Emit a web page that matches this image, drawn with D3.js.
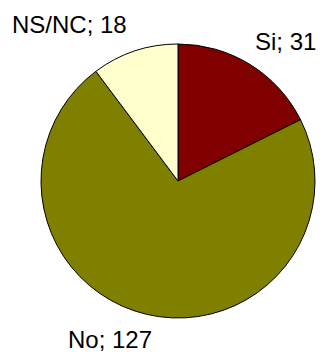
<!DOCTYPE html>
<html><head><meta charset="utf-8">
<script src="https://cdn.jsdelivr.net/npm/d3@7"></script>
<style>html,body{margin:0;padding:0;background:#fff;}</style>
</head><body>
<svg id="c" width="321" height="352"></svg>
<script>
const categories = ["Si", "No", "NS/NC"];
const values = [31, 127, 18];
const colors = ["#800000", "#808000", "#FFFFCC"];
const labelPos = [[255, 50], [68, 348], [12, 33]];

const svg = d3.select("#c");
const cx = 178, cy = 181, r = 137;
const data = categories.map((c, i) => ({cat: c, v: values[i], i}));
const pie = d3.pie().value(d => d.v).sort(null);
const arc = d3.arc().innerRadius(0).outerRadius(r);
const g = svg.append("g").attr("transform", `translate(${cx},${cy})`);
g.selectAll("path").data(pie(data)).join("path")
  .attr("d", arc)
  .attr("fill", d => colors[d.data.i])
  .attr("stroke", "#000").attr("stroke-width", 1);
svg.selectAll("text.lbl").data(data).join("text")
  .attr("class", "lbl")
  .attr("x", d => labelPos[d.i][0]).attr("y", d => labelPos[d.i][1])
  .attr("font-family", "Arial, 'Liberation Sans', sans-serif")
  .attr("font-size", 24).attr("fill", "#000")
  .text(d => `${d.cat}; ${d.v}`);
</script>
</body></html>
